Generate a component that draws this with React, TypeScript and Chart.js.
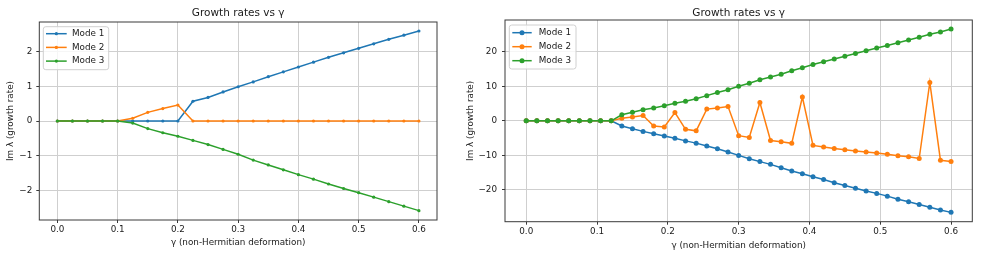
import React, { useEffect, useRef } from "react";
import { Chart, registerables } from "chart.js";

Chart.register(...registerables);

// ---------- data ----------
const seriesLabels = ["Mode 1", "Mode 2", "Mode 3"];
const chartTitle = "Growth rates vs γ";
const xAxisTitle = "γ (non-Hermitian deformation)";
const yAxisTitle = "Im λ (growth rate)";

const xTickValues = [0, 0.1, 0.2, 0.3, 0.4, 0.5, 0.6];
const yTicksLeft = [-2, -1, 0, 1, 2];
const yTicksRight = [-20, -10, 0, 10, 20];

const gammaLeft = [
  0, 0.025, 0.05, 0.075, 0.1, 0.125, 0.15, 0.175, 0.2, 0.225, 0.25, 0.275, 0.3,
  0.325, 0.35, 0.375, 0.4, 0.425, 0.45, 0.475, 0.5, 0.525, 0.55, 0.575, 0.6,
];
const mode1Left = [
  0, 0, 0, 0, 0, 0, 0, 0, 0, 0.57, 0.68, 0.84, 0.99, 1.13, 1.28, 1.42, 1.56,
  1.7, 1.84, 1.97, 2.1, 2.23, 2.36, 2.48, 2.6,
];
const mode2Left = [
  0, 0, 0, 0, 0, 0.08, 0.25, 0.36, 0.46, 0, 0, 0, 0, 0, 0, 0, 0, 0, 0, 0, 0, 0,
  0, 0, 0,
];
const mode3Left = [
  0, 0, 0, 0, 0, -0.06, -0.22, -0.34, -0.44, -0.56, -0.68, -0.82, -0.96, -1.13,
  -1.27, -1.41, -1.55, -1.68, -1.82, -1.95, -2.07, -2.2, -2.33, -2.46, -2.59,
];

const gammaRight = [
  0, 0.015, 0.03, 0.045, 0.06, 0.075, 0.09, 0.105, 0.12, 0.135, 0.15, 0.165,
  0.18, 0.195, 0.21, 0.225, 0.24, 0.255, 0.27, 0.285, 0.3, 0.315, 0.33, 0.345,
  0.36, 0.375, 0.39, 0.405, 0.42, 0.435, 0.45, 0.465, 0.48, 0.495, 0.51, 0.525,
  0.54, 0.555, 0.57, 0.585, 0.6,
];
const mode1Right = [
  0, 0, 0, 0, 0, 0, 0, 0, 0, -1.5, -2.3, -3.05, -3.75, -4.4, -5.05, -5.8, -6.45,
  -7.3, -8.1, -9.0, -10.0, -10.95, -11.8, -12.6, -13.6, -14.5, -15.3, -16.2,
  -17.0, -17.9, -18.7, -19.5, -20.3, -21.0, -21.8, -22.7, -23.4, -24.2, -25.0,
  -25.8, -26.5,
];
const mode2Right = [
  0, 0, 0, 0, 0, 0, 0, 0, 0, 0.75, 1.1, 1.55, -1.5, -1.8, 2.4, -2.45, -2.9, 3.4,
  3.75, 4.15, -4.3, -4.8, 5.3, -5.7, -6.05, -6.5, 6.9, -7.1, -7.6, -8.0, -8.4,
  -8.75, -9.05, -9.3, -9.7, -10.1, -10.4, -10.9, 11.1, -11.4, -11.8,
];
const mode3Right = [
  0, 0, 0, 0, 0, 0, 0, 0, 0, 1.75, 2.5, 3.2, 3.75, 4.35, 5.1, 5.65, 6.4, 7.3,
  8.2, 9.0, 10.0, 10.9, 11.9, 12.7, 13.5, 14.5, 15.4, 16.3, 17.1, 17.9, 18.7,
  19.5, 20.3, 21.1, 21.8, 22.6, 23.4, 24.2, 25.1, 25.7, 26.6,
];

// ---------- styles ----------
const seriesColors = ["#1f77b4", "#ff7f0e", "#2ca02c"];
const FONT = "'DejaVu Sans', 'Liberation Sans', sans-serif";
const TEXT = "#1a1a1a";
const GRID = "#cfcfcf";
const SPINE = "#3a3a3a";

type Layout = {
  width: number;
  height: number;
  yAxisWidth: number;
  padRight: number;
  titlePadTop: number;
  titlePadBottom: number;
  xAxisHeight: number;
  xTickPad: number;
  xTitlePadBottom: number;
  yTickPad: number;
  yTitlePad: number;
  pointRadius: number;
  legend: {
    dx: number;
    dy: number;
    w: number;
    h: number;
    hx0: number;
    hx1: number;
    tx: number;
    row0: number;
    rowGap: number;
  };
};

function minus(s: string) {
  return s.replace("-", "\u2212");
}

function buildChart(
  canvas: HTMLCanvasElement,
  xs: number[],
  series: number[][],
  yTicks: number[],
  yMin: number,
  yMax: number,
  L: Layout
) {
  const frame = {
    id: "mplFrame",
    afterDatasetsDraw(chart: any) {
      const { ctx, chartArea: a } = chart;
      ctx.save();
      ctx.strokeStyle = SPINE;
      ctx.lineWidth = 1;
      ctx.strokeRect(a.left, a.top, a.right - a.left, a.bottom - a.top);
      ctx.restore();
    },
  };
  const legend = {
    id: "mplLegend",
    afterDraw(chart: any) {
      const { ctx, chartArea: a } = chart;
      const g = L.legend;
      const bx = a.left + g.dx;
      const by = a.top + g.dy;
      ctx.save();
      ctx.beginPath();
      const r = 2.5;
      ctx.moveTo(bx + r, by);
      ctx.arcTo(bx + g.w, by, bx + g.w, by + g.h, r);
      ctx.arcTo(bx + g.w, by + g.h, bx, by + g.h, r);
      ctx.arcTo(bx, by + g.h, bx, by, r);
      ctx.arcTo(bx, by, bx + g.w, by, r);
      ctx.closePath();
      ctx.fillStyle = "rgba(255,255,255,0.8)";
      ctx.fill();
      ctx.strokeStyle = "#d0d0d0";
      ctx.lineWidth = 1;
      ctx.stroke();
      seriesLabels.forEach((lab, i) => {
        const y = by + g.row0 + i * g.rowGap;
        ctx.strokeStyle = seriesColors[i];
        ctx.lineWidth = 1.5;
        ctx.beginPath();
        ctx.moveTo(bx + g.hx0, y);
        ctx.lineTo(bx + g.hx1, y);
        ctx.stroke();
        ctx.fillStyle = seriesColors[i];
        ctx.beginPath();
        ctx.arc(bx + (g.hx0 + g.hx1) / 2, y, L.pointRadius, 0, Math.PI * 2);
        ctx.fill();
        ctx.fillStyle = TEXT;
        ctx.font = `8.8px ${FONT}`;
        ctx.textBaseline = "middle";
        ctx.textAlign = "left";
        ctx.fillText(lab, bx + g.tx, y);
      });
      ctx.restore();
    },
  };

  return new Chart(canvas, {
    type: "line",
    data: {
      datasets: series.map((vals, i) => ({
        label: seriesLabels[i],
        data: xs.map((x, j) => ({ x, y: vals[j] })),
        borderColor: seriesColors[i],
        backgroundColor: seriesColors[i],
        pointBackgroundColor: seriesColors[i],
        pointBorderWidth: 0,
        pointRadius: L.pointRadius,
        borderWidth: 1.5,
        tension: 0,
        fill: false,
        order: 3 - i,
      })),
    },
    options: {
      animation: false,
      responsive: false,
      maintainAspectRatio: false,
      devicePixelRatio: 1,
      events: [],
      layout: { padding: { left: 0, right: L.padRight, top: 0, bottom: 0 } },
      plugins: {
        legend: { display: false },
        tooltip: { enabled: false },
        title: {
          display: true,
          text: chartTitle,
          fullSize: false,
          color: TEXT,
          font: { family: FONT, size: 10.5, weight: "normal" },
          padding: { top: L.titlePadTop, bottom: L.titlePadBottom },
        },
      },
      scales: {
        x: {
          type: "linear",
          min: -0.03,
          max: 0.63,
          afterBuildTicks: (s: any) => {
            s.ticks = xTickValues.map((v) => ({ value: v }));
          },
          afterFit: (s: any) => {
            s.height = L.xAxisHeight;
          },
          ticks: {
            autoSkip: false,
            maxRotation: 0,
            padding: L.xTickPad,
            color: TEXT,
            font: { family: FONT, size: 8.8 },
            callback: (v: any) => Number(v).toFixed(1),
          },
          grid: {
            color: GRID,
            lineWidth: 1,
            drawTicks: true,
            tickLength: 3,
            tickColor: SPINE,
          },
          border: { display: false },
          title: {
            display: true,
            text: xAxisTitle,
            color: TEXT,
            font: { family: FONT, size: 8.8 },
            padding: { top: 0, bottom: L.xTitlePadBottom },
          },
        },
        y: {
          type: "linear",
          min: yMin,
          max: yMax,
          afterBuildTicks: (s: any) => {
            s.ticks = yTicks.map((v) => ({ value: v }));
          },
          afterFit: (s: any) => {
            s.width = L.yAxisWidth;
          },
          ticks: {
            autoSkip: false,
            padding: L.yTickPad,
            color: TEXT,
            font: { family: FONT, size: 8.8 },
            callback: (v: any) => minus(String(v)),
          },
          grid: {
            color: GRID,
            lineWidth: 1,
            drawTicks: true,
            tickLength: 3,
            tickColor: SPINE,
          },
          border: { display: false },
          title: {
            display: true,
            text: yAxisTitle,
            color: TEXT,
            font: { family: FONT, size: 8.8 },
            padding: { top: L.yTitlePad, bottom: 0 },
          },
        },
      },
    } as any,
    plugins: [frame, legend],
  });
}

const leftLayout: Layout = {
  width: 470,
  height: 277,
  yAxisWidth: 39.3,
  padRight: 33,
  titlePadTop: 6.9,
  titlePadBottom: 2.5,
  xAxisHeight: 57,
  xTickPad: 1.4,
  xTitlePadBottom: 28.9,
  yTickPad: 4,
  yTitlePad: 5.5,
  pointRadius: 1.6,
  legend: { dx: 4, dy: 4.7, w: 65.4, h: 43, hx0: 2.7, hx1: 23.4, tx: 28.7, row0: 7, rowGap: 13.7 },
};

const rightLayout: Layout = {
  width: 538,
  height: 277,
  yAxisWidth: 45,
  padRight: 25.7,
  titlePadTop: 6.9,
  titlePadBottom: 0.5,
  xAxisHeight: 55.3,
  xTickPad: 1.8,
  xTitlePadBottom: 25.9,
  yTickPad: 5,
  yTitlePad: 5.5,
  pointRadius: 2.5,
  legend: { dx: 4.3, dy: 5, w: 66.7, h: 44, hx0: 3, hx1: 22.4, tx: 29.4, row0: 7.7, rowGap: 14 },
};

export default function App() {
  const leftRef = useRef<HTMLCanvasElement | null>(null);
  const rightRef = useRef<HTMLCanvasElement | null>(null);

  useEffect(() => {
    Chart.defaults.font.family = FONT;
    const c1 = buildChart(
      leftRef.current!,
      gammaLeft,
      [mode1Left, mode2Left, mode3Left],
      yTicksLeft,
      -2.86,
      2.86,
      leftLayout
    );
    const c2 = buildChart(
      rightRef.current!,
      gammaRight,
      [mode1Right, mode2Right, mode3Right],
      yTicksRight,
      -29.2,
      29.2,
      rightLayout
    );
    return () => {
      c1.destroy();
      c2.destroy();
    };
  }, []);

  return (
    <div
      style={{
        position: "fixed",
        left: 0,
        top: 0,
        width: 998,
        height: 277,
        background: "#ffffff",
        overflow: "hidden",
      }}
    >
      <canvas
        ref={leftRef}
        width={leftLayout.width}
        height={leftLayout.height}
        style={{ position: "absolute", left: 0, top: 0, width: leftLayout.width, height: leftLayout.height }}
      />
      <canvas
        ref={rightRef}
        width={rightLayout.width}
        height={rightLayout.height}
        style={{ position: "absolute", left: 460, top: 0, width: rightLayout.width, height: rightLayout.height }}
      />
    </div>
  );
}
